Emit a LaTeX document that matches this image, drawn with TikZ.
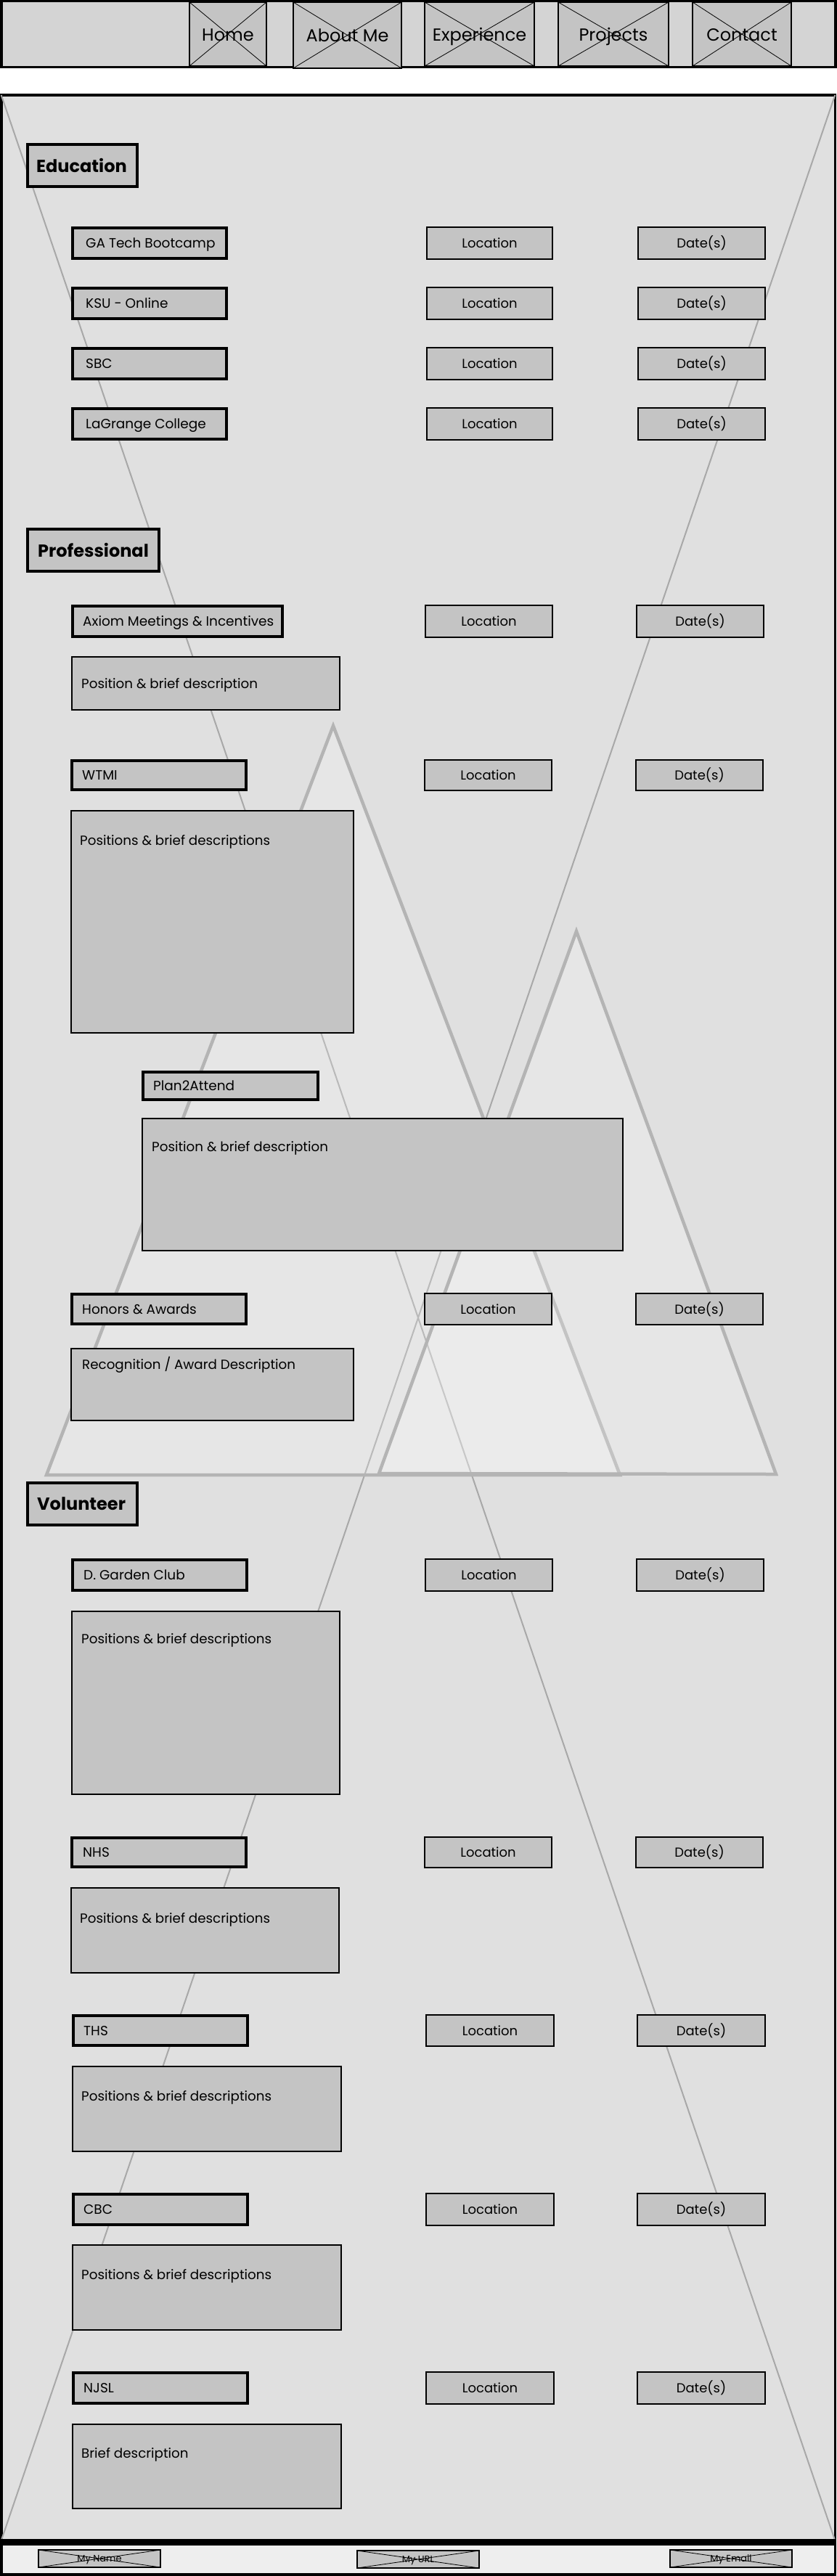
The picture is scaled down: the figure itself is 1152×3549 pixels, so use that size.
\documentclass[tikz,border=0pt]{standalone}
\usepackage{fontspec}
\setmainfont{Poppins}
\definecolor{navbg}{HTML}{D4D4D4}
\definecolor{mainbg}{HTML}{E0E0E0}
\definecolor{footbg}{HTML}{EEEEEE}
\definecolor{btn}{HTML}{C4C4C4}
\definecolor{xgray}{HTML}{A8A8A8}
\definecolor{trigray}{HTML}{B4B4B4}
\tikzset{
  frame/.style={draw=black, line width=3.5, inner sep=0, outer sep=0},
  navbtn/.style={draw=black, line width=2, fill=btn, inner sep=0, outer sep=0, text height=20, text depth=1, font=\fontsize{24}{28}\selectfont},
  footbtn/.style={draw=black, line width=2, fill=btn, inner sep=0, outer sep=0, text height=9.5, text depth=0, font=\fontsize{13}{15}\selectfont},
  crossline/.style={draw=black, line width=0.8},
  header/.style={draw=black, line width=4.5, fill=btn, inner sep=0, outer sep=0},
  namebox/.style={draw=black, line width=4, fill=btn, inner sep=0, outer sep=0},
  locbox/.style={draw=black, line width=2, fill=btn, inner sep=0, outer sep=0, text height=13, text depth=0, font=\fontsize{18}{21}\selectfont},
  descbox/.style={draw=black, line width=2, fill=btn, inner sep=0, outer sep=0},
  headtext/.style={anchor=west, inner sep=0, font=\fontsize{24}{28}\selectfont\bfseries},
  nametext/.style={anchor=west, inner sep=0, text height=13, text depth=0, font=\fontsize{18.5}{21}\selectfont},
  desctext/.style={anchor=west, inner sep=0, text height=13, text depth=0, font=\fontsize{18.3}{21}\selectfont},
  xline/.style={draw=xgray, line width=2},
  tri/.style={draw=trigray, line width=4.5, fill=white, fill opacity=0.2, draw opacity=1, line join=miter},
}
% #1 style, #2 name, #3 x0, #4 y0, #5 x1, #6 y1, #7 text
\newcommand\bx[7]{\node[#1, anchor=north west, minimum width={(#5)-(#3)}, minimum height={(#6)-(#4)}] (#2) at (#3,#4) {#7};}
\begin{document}
\begin{tikzpicture}[x=1pt,y=-1pt]
\useasboundingbox (0,0) rectangle (1152,3549);
% ---------- nav bar
\node[frame, fill=navbg, anchor=north west, minimum width=1149, minimum height=90.5] (nav) at (1.75,1.75) {};
\bx{navbtn}{home}{261}{3}{367}{91}{Home}
\bx{navbtn}{about}{404}{3}{553}{94}{About Me}
\bx{navbtn}{exper}{585}{3}{736}{91}{Experience}
\bx{navbtn}{proj}{769}{3}{921}{91}{Projects}
\bx{navbtn}{contact}{954}{3}{1090}{91}{Contact}
\foreach \n in {home,about,exper,proj,contact}{
  \draw[crossline] (\n.north west) -- (\n.south east) (\n.north east) -- (\n.south west);
}
% ---------- main area
\node[frame, fill=mainbg, anchor=north west, minimum width=1148.5, minimum height=3369] (main) at (1.75,131) {};
\draw[xline] (main.north west) -- (main.south east);
\draw[xline] (main.north east) -- (main.south west);
% mountains
\draw[tri] (459,1000) -- (64,2032) -- (854,2032) -- cycle;
\draw[tri] (794,1283) -- (522,2030) -- (1069,2031) -- cycle;
% bottom rule of main area
\draw[line width=7] (0,3501.5) -- (1152,3501.5);
% ---------- footer
\node[frame, fill=footbg, anchor=north west, minimum width=1148.5, minimum height=42] (foot) at (1.75,3505) {};
\bx{footbtn}{fname}{53}{3513}{221}{3537}{My Name}
\bx{footbtn}{furl}{492}{3514}{660}{3538}{My URL}
\bx{footbtn}{femail}{923}{3513}{1091}{3537}{My Email}
\foreach \n in {fname,furl,femail}{
  \draw[crossline] (\n.north west) -- (\n.south east) (\n.north east) -- (\n.south west);
}
% ---------- Education
\bx{header}{hedu}{38}{199}{189}{257}{}
\node[headtext] (hedut) at ([xshift=12]hedu.west) {Education};
\bx{namebox}{e1}{100}{314}{312}{356}{}
\node[nametext] (e1t) at ([xshift=18]e1.west) {GA Tech Bootcamp};
\bx{locbox}{e1l}{588}{313}{761}{357}{Location}
\bx{locbox}{e1d}{879}{313}{1054}{357}{Date(s)}
\bx{namebox}{e2}{100}{397}{312}{439}{}
\node[nametext] (e2t) at ([xshift=18]e2.west) {KSU - Online};
\bx{locbox}{e2l}{588}{396}{761}{440}{Location}
\bx{locbox}{e2d}{879}{396}{1054}{440}{Date(s)}
\bx{namebox}{e3}{100}{480}{312}{522}{}
\node[nametext] (e3t) at ([xshift=18]e3.west) {SBC};
\bx{locbox}{e3l}{588}{479}{761}{523}{Location}
\bx{locbox}{e3d}{879}{479}{1054}{523}{Date(s)}
\bx{namebox}{e4}{100}{563}{312}{605}{}
\node[nametext] (e4t) at ([xshift=18]e4.west) {LaGrange College};
\bx{locbox}{e4l}{588}{562}{761}{606}{Location}
\bx{locbox}{e4d}{879}{562}{1054}{606}{Date(s)}
% ---------- Professional
\bx{header}{hpro}{38}{729}{219}{787}{}
\node[headtext] (hprot) at ([xshift=14]hpro.west) {Professional};
\bx{namebox}{p1}{100}{835}{389}{877}{}
\node[nametext] (p1t) at ([xshift=14]p1.west) {Axiom Meetings \& Incentives};
\bx{locbox}{p1l}{586}{834}{761}{878}{Location}
\bx{locbox}{p1d}{877}{834}{1052}{878}{Date(s)}
\bx{descbox}{p1x}{99}{905}{468}{978}{}
\node[desctext] (p1xt) at ([xshift=13]p1x.west) {Position \& brief description};
\bx{namebox}{p2}{99}{1048}{339}{1088}{}
\node[nametext] (p2t) at ([xshift=14]p2.west) {WTMI};
\bx{locbox}{p2l}{585}{1047}{760}{1089}{Location}
\bx{locbox}{p2d}{876}{1047}{1051}{1089}{Date(s)}
\bx{descbox}{p2x}{98}{1117}{487}{1423}{}
\node[desctext] (p2xt) at ([xshift=12,yshift=-41]p2x.north west) {Positions \& brief descriptions};
\bx{namebox}{p3}{197}{1477}{438}{1515}{}
\node[nametext] (p3t) at ([xshift=14]p3.west) {Plan2Attend};
\bx{descbox}{p3x}{196}{1541}{858}{1723}{}
\node[desctext] (p3xt) at ([xshift=13,yshift=-39]p3x.north west) {Position \& brief description};
\bx{namebox}{p4}{99}{1783}{339}{1824}{}
\node[nametext] (p4t) at ([xshift=14]p4.west) {Honors \& Awards};
\bx{locbox}{p4l}{585}{1782}{760}{1825}{Location}
\bx{locbox}{p4d}{876}{1782}{1051}{1825}{Date(s)}
\bx{descbox}{p4x}{98}{1858}{487}{1957}{}
\node[desctext] (p4xt) at ([xshift=15,yshift=-22]p4x.north west) {Recognition / Award Description};
% ---------- Volunteer
\bx{header}{hvol}{38}{2043}{189}{2101}{}
\node[headtext] (hvolt) at ([xshift=13]hvol.west) {Volunteer};
\bx{namebox}{v1}{100}{2149}{340}{2191}{}
\node[nametext] (v1t) at ([xshift=15]v1.west) {D. Garden Club};
\bx{locbox}{v1l}{586}{2148}{761}{2192}{Location}
\bx{locbox}{v1d}{877}{2148}{1052}{2192}{Date(s)}
\bx{descbox}{v1x}{99}{2220}{468}{2472}{}
\node[desctext] (v1xt) at ([xshift=13,yshift=-38]v1x.north west) {Positions \& brief descriptions};
\bx{namebox}{v2}{99}{2532}{339}{2572}{}
\node[nametext] (v2t) at ([xshift=15]v2.west) {NHS};
\bx{locbox}{v2l}{585}{2531}{760}{2573}{Location}
\bx{locbox}{v2d}{876}{2531}{1051}{2573}{Date(s)}
\bx{descbox}{v2x}{98}{2601}{467}{2718}{}
\node[desctext] (v2xt) at ([xshift=12,yshift=-42]v2x.north west) {Positions \& brief descriptions};
\bx{namebox}{v3}{101}{2777}{341}{2818}{}
\node[nametext] (v3t) at ([xshift=14]v3.west) {THS};
\bx{locbox}{v3l}{587}{2776}{763}{2819}{Location}
\bx{locbox}{v3d}{878}{2776}{1054}{2819}{Date(s)}
\bx{descbox}{v3x}{100}{2847}{470}{2964}{}
\node[desctext] (v3xt) at ([xshift=12,yshift=-41]v3x.north west) {Positions \& brief descriptions};
\bx{namebox}{v4}{101}{3023}{341}{3065}{}
\node[nametext] (v4t) at ([xshift=14]v4.west) {CBC};
\bx{locbox}{v4l}{587}{3022}{763}{3066}{Location}
\bx{locbox}{v4d}{878}{3022}{1054}{3066}{Date(s)}
\bx{descbox}{v4x}{100}{3093}{470}{3210}{}
\node[desctext] (v4xt) at ([xshift=12,yshift=-41]v4x.north west) {Positions \& brief descriptions};
\bx{namebox}{v5}{101}{3269}{341}{3311}{}
\node[nametext] (v5t) at ([xshift=14]v5.west) {NJSL};
\bx{locbox}{v5l}{587}{3268}{763}{3312}{Location}
\bx{locbox}{v5d}{878}{3268}{1054}{3312}{Date(s)}
\bx{descbox}{v5x}{100}{3340}{470}{3456}{}
\node[desctext] (v5xt) at ([xshift=12,yshift=-40]v5x.north west) {Brief description};
\end{tikzpicture}
\end{document}
